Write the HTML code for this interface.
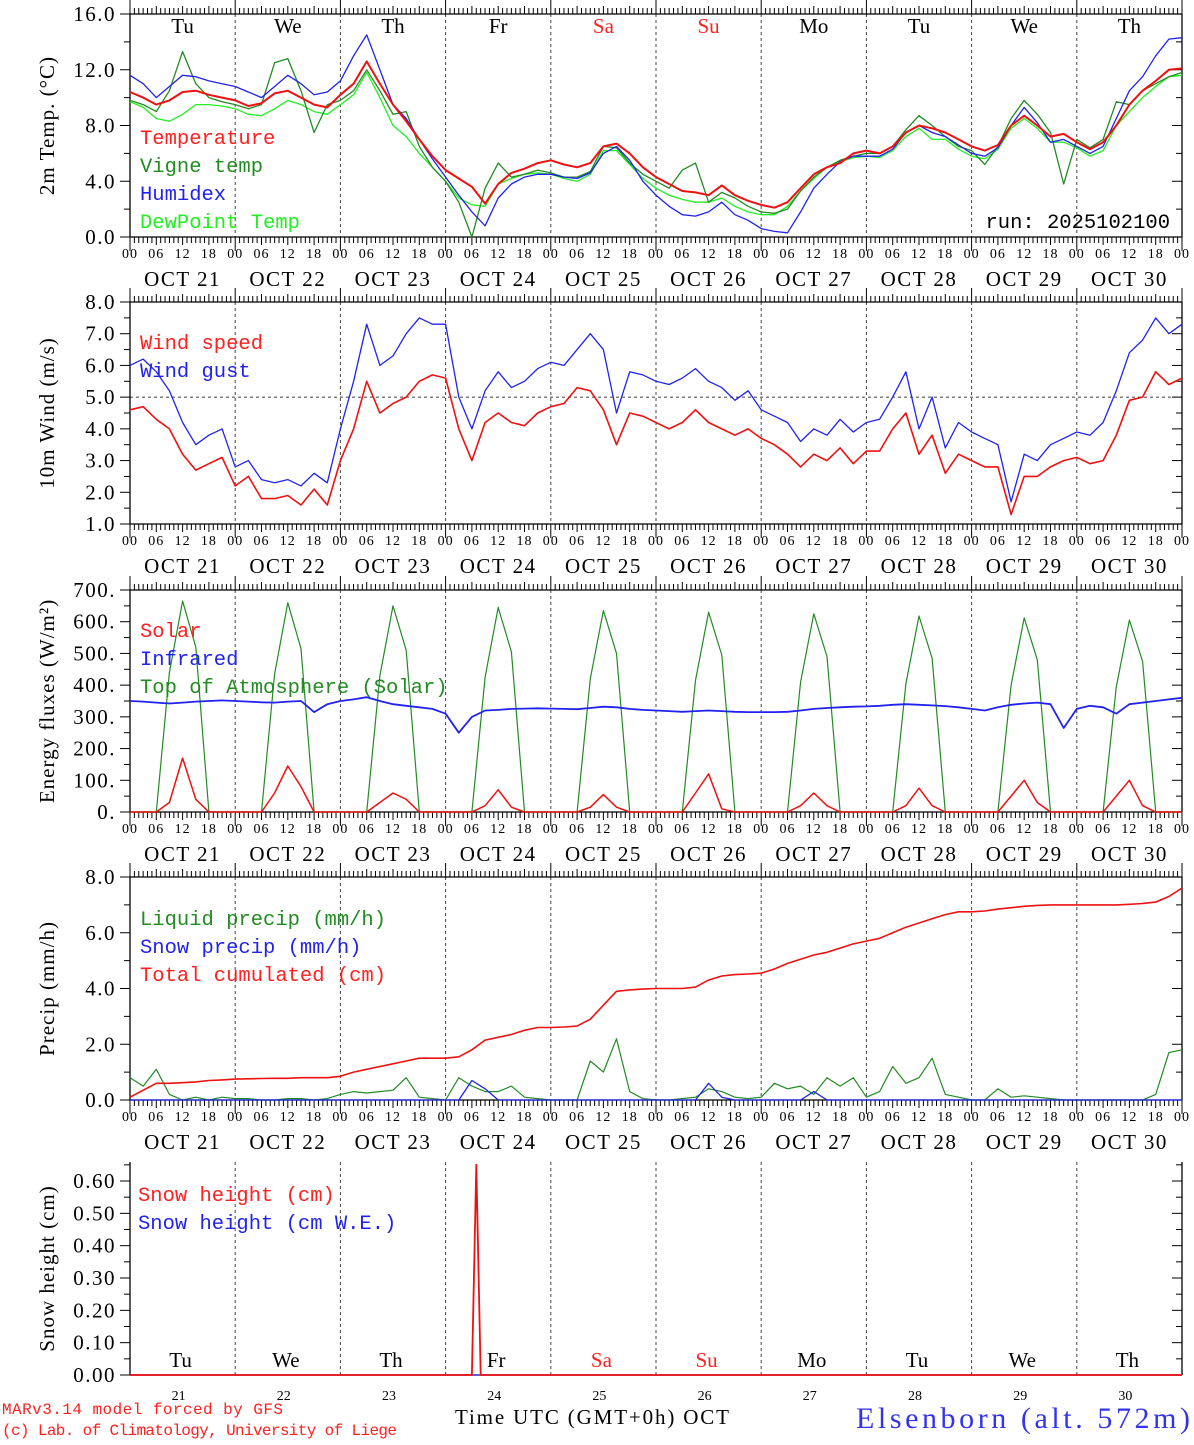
<!DOCTYPE html>
<html><head><meta charset="utf-8"><style>
html,body{margin:0;padding:0;background:#fff}
svg text{font-family:"Liberation Serif",serif}
.mono{font-family:"Liberation Mono",monospace}
</style></head><body>
<svg id="chart" width="1194" height="1440" viewBox="0 0 1194 1440" xmlns="http://www.w3.org/2000/svg"></svg>
<script>
const days = ["21","22","23","24","25","26","27","28","29","30"];
const weekdays = ["Tu","We","Th","Fr","Sa","Su","Mo","Tu","We","Th"];
const hourLabels = ["00","06","12","18"];
// 3-hourly series, Oct21 00 -> Oct31 00 (81 values)
const temperature = [10.4,10.0,9.5,9.8,10.4,10.5,10.2,10.0, 9.8,9.4,9.6,10.3,10.5,10.0,9.5,9.3, 10.2,11.0,12.6,11.0,9.5,8.3,7.0,5.8, 4.8,4.2,3.6,2.4,3.8,4.6,4.9,5.3, 5.5,5.2,5.0,5.3,6.5,6.7,6.0,5.0, 4.3,3.8,3.3,3.2,3.0,3.7,3.0,2.6, 2.3,2.1,2.5,3.5,4.5,5.0,5.3,6.0, 6.2,6.0,6.5,7.5,8.0,7.8,7.5,7.0, 6.5,6.2,6.6,8.0,8.7,8.0,7.2,7.4, 6.8,6.3,6.8,8.0,9.5,10.5,11.2,12.0, 12.1];
const vigneTemp = [9.8,9.5,9.0,10.5,13.3,11.0,10.0,9.7, 9.5,9.2,9.5,12.5,12.8,10.5,7.5,9.5, 9.8,10.5,12.0,10.5,8.8,9.0,6.5,5.0, 4.0,2.5,0.0,3.5,5.3,4.3,4.5,4.8, 4.6,4.3,4.3,4.7,6.5,6.4,5.3,4.5, 4.0,3.5,4.8,5.3,2.5,3.2,2.8,2.2, 1.8,1.7,2.0,3.3,4.3,5.0,5.5,5.8, 6.0,6.0,6.5,7.7,8.7,8.0,7.2,6.5, 6.2,5.2,6.5,8.5,9.8,8.8,7.5,3.8, 7.0,6.4,7.0,9.7,9.5,10.5,11.0,11.5, 11.8];
const humidex = [11.6,11.0,10.0,10.8,11.6,11.5,11.2,11.0, 10.8,10.4,10.0,10.8,11.6,11.0,10.2,10.4, 11.2,13.0,14.5,12.0,9.5,8.5,7.0,5.6, 4.3,3.0,1.8,0.8,2.8,3.8,4.3,4.5, 4.5,4.3,4.2,4.6,6.0,6.5,5.5,4.0, 3.0,2.2,1.6,1.5,1.8,2.5,1.6,1.2, 0.6,0.4,0.3,1.8,3.5,4.5,5.4,5.8, 5.8,5.8,6.3,7.5,8.0,7.5,7.2,6.6, 6.0,5.8,6.4,8.0,9.3,8.2,6.8,7.0, 6.5,6.0,6.5,8.5,10.5,11.5,13.0,14.2, 14.3];
const dewPoint = [9.7,9.3,8.5,8.3,8.8,9.5,9.5,9.4, 9.2,8.8,8.7,9.2,9.8,9.5,9.0,8.8, 9.5,10.2,11.8,10.0,8.0,7.2,6.0,5.0, 4.0,2.8,2.3,2.2,3.8,4.2,4.5,4.6, 4.5,4.2,4.0,4.5,6.2,6.2,5.2,4.2, 3.5,3.0,2.7,2.5,2.5,2.8,2.2,1.8, 1.6,1.6,2.2,3.3,4.2,5.0,5.4,5.7, 5.8,5.7,6.2,7.2,7.8,7.0,7.0,6.3, 5.8,5.6,6.3,7.8,8.5,7.8,6.8,6.8, 6.4,5.8,6.2,8.0,9.0,10.0,10.8,11.5, 11.6];
const windSpeed = [4.6,4.7,4.3,4.0,3.2,2.7,2.9,3.1, 2.2,2.5,1.8,1.8,1.9,1.6,2.1,1.6, 3.0,4.0,5.5,4.5,4.8,5.0,5.5,5.7, 5.6,4.0,3.0,4.2,4.5,4.2,4.1,4.5, 4.7,4.8,5.3,5.2,4.6,3.5,4.5,4.4, 4.2,4.0,4.2,4.6,4.2,4.0,3.8,4.0, 3.7,3.5,3.2,2.8,3.2,3.0,3.4,2.9, 3.3,3.3,4.0,4.5,3.2,3.8,2.6,3.2, 3.0,2.8,2.8,1.3,2.5,2.5,2.8,3.0, 3.1,2.9,3.0,3.8,4.9,5.0,5.8,5.4, 5.6];
const windGust = [6.0,6.2,5.8,5.2,4.2,3.5,3.8,4.0, 2.8,3.0,2.4,2.3,2.4,2.2,2.6,2.3, 4.0,5.5,7.3,6.0,6.3,7.0,7.5,7.3, 7.3,5.0,4.0,5.2,5.8,5.3,5.5,5.9, 6.1,6.0,6.5,7.0,6.5,4.5,5.8,5.7, 5.5,5.4,5.6,5.9,5.5,5.3,4.9,5.2, 4.6,4.4,4.2,3.6,4.0,3.8,4.3,3.9, 4.2,4.3,5.0,5.8,4.0,5.0,3.4,4.2, 3.9,3.7,3.5,1.7,3.2,3.0,3.5,3.7, 3.9,3.8,4.2,5.2,6.4,6.8,7.5,7.0, 7.3];
const solar = [0,0,0,30,170,40,0,0, 0,0,0,60,145,80,0,0, 0,0,0,30,60,40,0,0, 0,0,0,20,70,15,0,0, 0,0,0,15,55,15,0,0, 0,0,0,60,120,10,0,0, 0,0,0,20,60,20,0,0, 0,0,0,20,75,20,0,0, 0,0,0,50,100,30,0,0, 0,0,0,50,100,20,0,0, 0];
const infrared = [350,348,345,342,345,348,350,352, 350,348,346,345,348,350,315,340, 350,355,362,350,340,335,330,325, 310,250,300,320,322,325,326,327, 326,325,324,328,332,330,325,322, 320,318,316,318,320,318,316,315, 315,315,316,320,325,328,330,332, 333,335,338,340,338,336,334,330, 325,320,330,338,342,345,340,265, 325,335,330,310,340,345,350,355, 360];
const toaSolar = [0,0,0,440,665,520,0,0, 0,0,0,435,660,515,0,0, 0,0,0,430,650,510,0,0, 0,0,0,425,645,505,0,0, 0,0,0,420,635,500,0,0, 0,0,0,415,630,495,0,0, 0,0,0,410,625,490,0,0, 0,0,0,405,618,485,0,0, 0,0,0,400,612,480,0,0, 0,0,0,395,605,475,0,0, 0];
const liquidPrecip = [0.8,0.5,1.1,0.2,0.0,0.1,0.0,0.1, 0.05,0.05,0.0,0.0,0.05,0.05,0.0,0.05, 0.2,0.3,0.25,0.3,0.35,0.8,0.1,0.05, 0.0,0.8,0.5,0.3,0.3,0.5,0.1,0.05, 0.0,0.0,0.0,1.4,1.0,2.2,0.3,0.05, 0.0,0.0,0.05,0.1,0.4,0.3,0.1,0.05, 0.1,0.6,0.4,0.5,0.2,0.8,0.5,0.8, 0.1,0.3,1.2,0.6,0.8,1.5,0.2,0.1, 0.0,0.0,0.4,0.1,0.15,0.1,0.05,0.0, 0.0,0.0,0.0,0.0,0.0,0.0,0.2,1.7, 1.8];
const snowPrecip = [0,0,0,0,0,0,0,0, 0,0,0,0,0,0,0,0, 0,0,0,0,0,0,0,0, 0,0,0.7,0.4,0,0,0,0, 0,0,0,0,0,0,0,0, 0,0,0,0,0.6,0.1,0,0, 0,0,0,0,0.3,0,0,0, 0,0,0,0,0,0,0,0, 0,0,0,0,0,0,0,0, 0,0,0,0,0,0,0,0, 0];
const totalCumul = [0.1,0.35,0.6,0.6,0.62,0.65,0.7,0.72, 0.75,0.76,0.77,0.78,0.78,0.8,0.8,0.8, 0.85,1.0,1.1,1.2,1.3,1.4,1.5,1.5, 1.5,1.55,1.8,2.15,2.25,2.35,2.5,2.6, 2.6,2.62,2.65,2.9,3.4,3.9,3.95,3.98, 4.0,4.0,4.0,4.05,4.3,4.45,4.5,4.52, 4.55,4.7,4.9,5.05,5.2,5.3,5.45,5.6, 5.7,5.8,6.0,6.2,6.35,6.5,6.65,6.75, 6.75,6.78,6.85,6.9,6.95,6.98,7.0,7.0, 7.0,7.0,7.0,7.0,7.02,7.05,7.1,7.3, 7.6];
// snow height: hours since Oct21 00 and values
const snowHours = [0,78,79,80,240];
const snowHeight = [0,0,0.65,0,0];
const snowHeightWE = [0,0,0,0,0];

const NS="http://www.w3.org/2000/svg";
const svg=document.getElementById('chart');
const X0=130, X1=1182, DAYW=(X1-X0)/10;
function xt(i){return X0+i*DAYW/8;}
function xh(h){return X0+h*DAYW/24;}
function el(tag,attrs,parent){const e=document.createElementNS(NS,tag);for(const k in attrs)e.setAttribute(k,attrs[k]);(parent||svg).appendChild(e);return e;}
function txt(s,x,y,size,fill,anchor,cls,parent){const t=el('text',{x:x,y:y,'font-size':size,fill:fill||'#000','text-anchor':anchor||'middle'},parent);if(cls)t.setAttribute('class',cls);t.textContent=s;return t;}

const panels=[
 {name:'temperature-panel',top:14,bot:237,min:0,max:16,major:4,minor:2,dec:1,title:'2m Temp. (\u00B0C)',box:true},
 {name:'wind-panel',top:302,bot:524,min:1,max:8,major:1,minor:0.5,dec:1,title:'10m Wind (m/s)',box:true},
 {name:'energy-panel',top:590,bot:812,min:0,max:700,major:100,minor:50,dec:0,title:'Energy fluxes (W/m\u00B2)',box:true},
 {name:'precip-panel',top:877,bot:1100,min:0,max:8,major:2,minor:1,dec:1,title:'Precip (mm/h)',box:true},
 {name:'snow-panel',top:1162,bot:1375,min:0,max:0.6588,major:0.1,minor:0.05,dec:2,title:'Snow height (cm)',box:false}
];
function yfn(p){return v=>p.bot-(v-p.min)/(p.max-p.min)*(p.bot-p.top);}

panels.forEach((p,pi)=>{
 const g=el('g',{});
 
 
 const y=yfn(p);
 for(let d=1;d<10;d++){const l=el('line',{x1:X0+d*DAYW,x2:X0+d*DAYW,y1:p.top,y2:p.bot,stroke:'#444','stroke-width':1,'stroke-dasharray':'3,3'},g);
  }
 el('line',{x1:X0,x2:X0,y1:p.top,y2:p.bot,stroke:'#000','stroke-width':1.3},g);
 el('line',{x1:X1,x2:X1,y1:p.top,y2:p.bot,stroke:'#000','stroke-width':1.3},g);
 el('line',{x1:X0,x2:X1,y1:p.bot,y2:p.bot,stroke:'#000','stroke-width':1.3},g);
 if(p.box){el('line',{x1:X0,x2:X1,y1:p.top,y2:p.top,stroke:'#000','stroke-width':1.3},g);}
 for(let v=p.min;v<=p.max+1e-9;v+=p.minor){
  const isMaj=Math.abs(Math.round((v-p.min)/p.major)*p.major-(v-p.min))<1e-6 && (p.name!=='snow-panel'||v<=0.6001);
  const yy=y(v);
  el('line',{x1:X0-(isMaj?10:6),x2:X0,y1:yy,y2:yy,stroke:'#000','stroke-width':1},g);
  el('line',{x1:X1-(isMaj?10:6),x2:X1,y1:yy,y2:yy,stroke:'#000','stroke-width':1},g);
  if(isMaj){
   const lab=p.dec===0?Math.round(v)+'.':v.toFixed(p.dec);
   const t=txt(lab,X0-14,yy+7,21,'#000','end',null,g);
   t.setAttribute('letter-spacing','1.5');
   
  }
 }
 const tt=txt(p.title,0,0,21,'#000','middle',null,g);
 tt.setAttribute('letter-spacing','1');
 tt.setAttribute('transform','translate(54,'+((p.top+p.bot)/2)+') rotate(-90)');
 
 if(p.box){
  for(let h=0;h<=240;h++){
   const xx=X0+h*DAYW/24;const len=(h%24===0)?14:(h%6===0?8:6);
   el('line',{x1:xx,x2:xx,y1:p.top-len,y2:p.top,stroke:'#000','stroke-width':1},g);
   el('line',{x1:xx,x2:xx,y1:p.bot,y2:p.bot+len,stroke:'#000','stroke-width':1},g);
  }
  for(let d=0;d<10;d++){
   for(let k=0;k<4;k++){const t=txt(hourLabels[k],X0+d*DAYW+k*DAYW/4,p.bot+21,14,'#000','middle',null,g);
    t.setAttribute('letter-spacing','1');
    }
   const t=txt('OCT '+days[d],X0+(d+0.5)*DAYW,p.bot+49,21,'#000','middle',null,g);
   t.setAttribute('letter-spacing','1.5');
   
  }
  const t=txt('00',X1,p.bot+21,14,'#000','middle',null,g);
  t.setAttribute('letter-spacing','1');
  
 }
});

function series(arr,p,color,w,name,xs){
 const y=yfn(p);
 const pts=arr.map((v,i)=>(xs?xh(xs[i]):xt(i)).toFixed(1)+','+y(v).toFixed(1)).join(' ');
 const pl=el('polyline',{points:pts,fill:'none',stroke:color,'stroke-width':w,'stroke-linejoin':'round'});
 
 
}
function legend(s,x,yy,color,name){const t=txt(s,x,yy,20.5,color,'start','mono');
 return t;}

series(dewPoint,panels[0],'#22ee22',1.3,'dewpoint-line');
series(vigneTemp,panels[0],'#228b22',1.3,'vigne-temp-line');
series(humidex,panels[0],'#2222ee',1.3,'humidex-line');
series(temperature,panels[0],'#ee1111',2,'temperature-line');
for(let d=0;d<10;d++){const t=txt(weekdays[d],X0+(d+0.5)*DAYW,33,21,(d===4||d===5)?'#ff2020':'#000','middle');
 }
legend('Temperature',140,144,'#ff2020','legend-temperature');
legend('Vigne temp',140,172,'#228b22','legend-vigne-temp');
legend('Humidex',140,200,'#2222ee','legend-humidex');
legend('DewPoint Temp',140,228,'#22ee22','legend-dewpoint');
legend('run: 2025102100',1170,228,'#000','run-label').setAttribute('text-anchor','end');

{const p=panels[1],y=yfn(p);const l=el('line',{x1:X0,x2:X1,y1:y(5),y2:y(5),stroke:'#000','stroke-width':0.8,'stroke-dasharray':'3,3'});
 }
series(windGust,panels[1],'#2222ee',1.3,'wind-gust-line');
series(windSpeed,panels[1],'#ee1111',1.6,'wind-speed-line');
legend('Wind speed',140,349,'#ff2020','legend-wind-speed');
legend('Wind gust',140,377,'#2222ee','legend-wind-gust');

series(toaSolar,panels[2],'#228b22',1.2,'toa-solar-line');
series(infrared,panels[2],'#2222ee',1.8,'infrared-line');
series(solar,panels[2],'#ee1111',1.5,'solar-line');
legend('Solar',140,637,'#ff2020','legend-solar');
legend('Infrared',140,665,'#2222ee','legend-infrared');
legend('Top of Atmosphere (Solar)',140,693,'#228b22','legend-toa');

series(liquidPrecip,panels[3],'#228b22',1.2,'liquid-precip-line');
series(snowPrecip,panels[3],'#2222ee',1.3,'snow-precip-line');
series(totalCumul,panels[3],'#ee1111',1.6,'total-cumulated-line');
legend('Liquid precip (mm/h)',140,925,'#228b22','legend-liquid-precip');
legend('Snow precip (mm/h)',140,953,'#2222ee','legend-snow-precip');
legend('Total cumulated (cm)',140,981,'#ff2020','legend-total-cumulated');

series(snowHeightWE,panels[4],'#2222ee',1.3,'snow-height-we-line',snowHours);
series(snowHeight,panels[4],'#ee1111',1.8,'snow-height-line',snowHours);
legend('Snow height (cm)',138,1201,'#ff2020','legend-snow-height');
legend('Snow height (cm W.E.)',138,1229,'#2222ee','legend-snow-height-we');
for(let d=0;d<10;d++){
 const t=txt(weekdays[d],X0+(d+0.5)*DAYW-2,1367,21,(d===4||d===5)?'#ff2020':'#000','middle');
 
 const n=txt(days[d],X0+(d+0.5)*DAYW-4,1400,14,'#000','middle');
 
}
{const t=txt('Time UTC (GMT+0h) OCT',592,1424,21,'#000','middle');t.setAttribute('textLength','274');}
{const t=txt('MARv3.14 model forced by GFS',2,1414,16,'#ff2020','start','mono');t.setAttribute('textLength','281');}
{const t=txt('(c) Lab. of Climatology, University of Liege',2,1435,16,'#ff2020','start','mono');t.setAttribute('textLength','395');}
{const t=txt('Elsenborn (alt. 572m)',856,1428,30,'#3333ee','start');t.setAttribute('textLength','334');}
</script>
</body></html>
